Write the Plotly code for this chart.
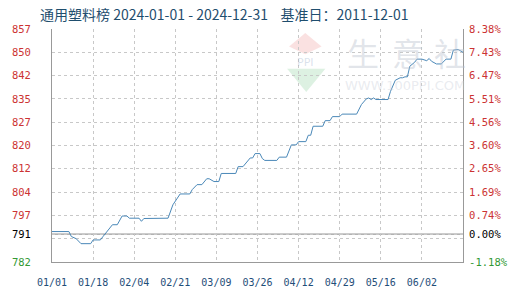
import plotly.graph_objects as go

# ---- data ----
dates = ["2024-01-01","2024-01-08","2024-01-09","2024-01-11","2024-01-13","2024-01-17","2024-01-18",
         "2024-01-21","2024-01-22","2024-01-24","2024-01-26","2024-01-28","2024-01-30","2024-02-01",
         "2024-02-02","2024-02-06","2024-02-07","2024-02-08","2024-02-18","2024-02-20","2024-02-22",
         "2024-02-23","2024-02-27","2024-02-28","2024-03-01","2024-03-03","2024-03-05","2024-03-06",
         "2024-03-08","2024-03-10","2024-03-11","2024-03-17","2024-03-18","2024-03-20","2024-03-23",
         "2024-03-24","2024-03-25","2024-03-27","2024-03-28","2024-03-29","2024-04-03","2024-04-04",
         "2024-04-07","2024-04-09","2024-04-11","2024-04-12","2024-04-15","2024-04-16","2024-04-17",
         "2024-04-18","2024-04-22","2024-04-23","2024-04-25","2024-04-26","2024-04-29","2024-04-30",
         "2024-05-06","2024-05-08","2024-05-10","2024-05-11","2024-05-12","2024-05-13","2024-05-14",
         "2024-05-19","2024-05-20","2024-05-22","2024-05-24","2024-05-25","2024-05-26","2024-05-27",
         "2024-05-28","2024-05-30","2024-05-31","2024-06-02","2024-06-04","2024-06-05","2024-06-06",
         "2024-06-08","2024-06-10","2024-06-12","2024-06-14","2024-06-15","2024-06-17","2024-06-18",
         "2024-06-19"]
values = [791.8,791.8,790.2,789.5,787.9,787.9,789.1,
          789.1,790.1,792.1,794.0,794.0,796.8,796.8,
          796.1,796.1,795.1,796.0,796.1,800.4,803.0,
          803.9,803.9,805.3,806.9,806.9,808.8,808.8,
          807.9,807.9,810.5,810.5,812.7,812.7,815.5,
          815.5,816.9,816.9,815.3,814.7,814.7,815.75,
          815.75,819.7,819.7,820.75,820.75,822.8,822.8,
          825.7,825.7,827.5,827.5,828.8,828.8,829.6,
          829.6,832.7,834.5,834.8,834.3,834.8,834.3,
          834.3,836.9,840.5,841.3,841.3,841.6,841.6,
          845.0,846.3,847.3,847.3,846.8,847.5,846.6,
          845.75,845.75,847.3,847.3,850.2,850.4,849.9,
          849.5]

x_tick_dates = ["2024-01-01","2024-01-18","2024-02-04","2024-02-21","2024-03-09",
                "2024-03-26","2024-04-12","2024-04-29","2024-05-16","2024-06-02"]
x_tick_labels = ["01/01","01/18","02/04","02/21","03/09","03/26","04/12","04/29","05/16","06/02"]

y_tick_vals = [782, 789.5, 791, 797, 804.5, 812, 819.5, 827, 834.5, 842, 849.5, 857]
y_tick_labels = ["782", "", "791", "797", "804", "812", "820", "827", "835", "842", "850", "857"]
pct_labels = ["-1.18%", "", "0.00%", "0.74%", "1.69%", "2.65%", "3.60%", "4.56%", "5.51%", "6.47%", "7.43%", "8.38%"]
base_value = 791
x_range = ["2024-01-01", "2024-06-19"]
y_range = [782, 857]

RED = "#cc3333"
GREEN = "#339933"


def color_label(t, base_label, low_label):
    if t == base_label:
        return "<span style='color:#000000'>" + t + "</span>"
    if t == low_label:
        return "<span style='color:" + GREEN + "'>" + t + "</span>"
    return t


left_text = [color_label(t, "791", "782") for t in y_tick_labels]
right_text = [color_label(t, "0.00%", "-1.18%") for t in pct_labels]

fig = go.Figure()
fig.add_trace(go.Scatter(x=dates, y=values, mode="lines",
                         line=dict(color="#4a88b8", width=1), showlegend=False,
                         hoverinfo="skip"))
fig.add_trace(go.Scatter(x=dates, y=values, mode="lines", yaxis="y2",
                         line=dict(color="rgba(0,0,0,0)", width=0), showlegend=False,
                         hoverinfo="skip"))

fig.add_shape(type="line", xref="paper", x0=0, x1=1, yref="y", y0=base_value, y1=base_value,
              line=dict(color="#999999", width=1.2), layer="below")

# watermark (plot area: x 40..470, y 29..269)
def px(x):
    return (x - 40) / 430.0


def py(y):
    return (269 - y) / 240.0


wm_color = "rgba(185,192,205,0.42)"
for ch, cx in zip(["生", "意", "社"], [365, 412, 456]):
    fig.add_annotation(text=ch, xref="paper", yref="paper", x=px(cx), y=py(53),
                       xanchor="center", yanchor="middle", showarrow=False,
                       font=dict(family="Noto Sans CJK SC", size=32, color=wm_color))
fig.add_annotation(text="WWW.100PPI.COM", xref="paper", yref="paper", x=px(409), y=py(87),
                   xanchor="center", yanchor="middle", showarrow=False,
                   font=dict(family="DejaVu Sans", size=13, color="rgba(200,205,215,0.4)"))
fig.add_shape(type="path", xref="paper", yref="paper",
              path="M %f %f L %f %f L %f %f L %f %f Z" % (px(288), py(47), px(305), py(33),
                                                            px(322), py(47), px(305), py(55)),
              fillcolor="rgba(230,120,120,0.22)", line=dict(width=0), layer="below")
fig.add_annotation(text="PPI", xref="paper", yref="paper", x=px(305), y=py(63),
                   xanchor="center", yanchor="middle", showarrow=False,
                   font=dict(family="DejaVu Sans", size=11, color="rgba(150,170,200,0.35)"))
fig.add_shape(type="path", xref="paper", yref="paper",
              path="M %f %f L %f %f L %f %f Z" % (px(286), py(70), px(326), py(70),
                                                  px(306), py(94)),
              fillcolor="rgba(120,200,140,0.25)", line=dict(width=0), layer="below")

fig.update_layout(
    width=520, height=300,
    margin=dict(l=40, r=50, t=29, b=31),
    paper_bgcolor="white", plot_bgcolor="white",
    title=dict(text="通用塑料榜 2024-01-01 - 2024-12-31    基准日：2011-12-01",
               x=40/520, xanchor="left", y=1-15/300, yanchor="middle",
               font=dict(family="Noto Sans CJK SC", size=14, color="#1f4e6e")),
    xaxis=dict(type="date", range=x_range, tickvals=x_tick_dates, ticktext=x_tick_labels,
               showgrid=True, gridcolor="#c8c8c8", griddash="dot", gridwidth=1,
               showline=True, linecolor="#999999", linewidth=1, zeroline=False,
               ticks="", ticklabelstandoff=11,
               tickfont=dict(family="DejaVu Sans Mono", size=10, color="#1f4e79")),
    yaxis=dict(range=y_range, tickvals=y_tick_vals, ticktext=left_text,
               showgrid=True, gridcolor="#c8c8c8", griddash="dot", gridwidth=1,
               showline=True, linecolor="#999999", linewidth=1, zeroline=False,
               ticks="", ticklabelstandoff=18,
               tickfont=dict(family="DejaVu Sans Mono", size=10.5, color=RED)),
    yaxis2=dict(range=y_range, tickvals=y_tick_vals, ticktext=right_text, overlaying="y",
                side="right", showgrid=False, showline=True, linecolor="#999999",
                linewidth=1, zeroline=False, ticks="", ticklabelstandoff=3,
                tickfont=dict(family="DejaVu Sans Mono", size=10.5, color=RED)),
)

fig.write_html("out.html")
